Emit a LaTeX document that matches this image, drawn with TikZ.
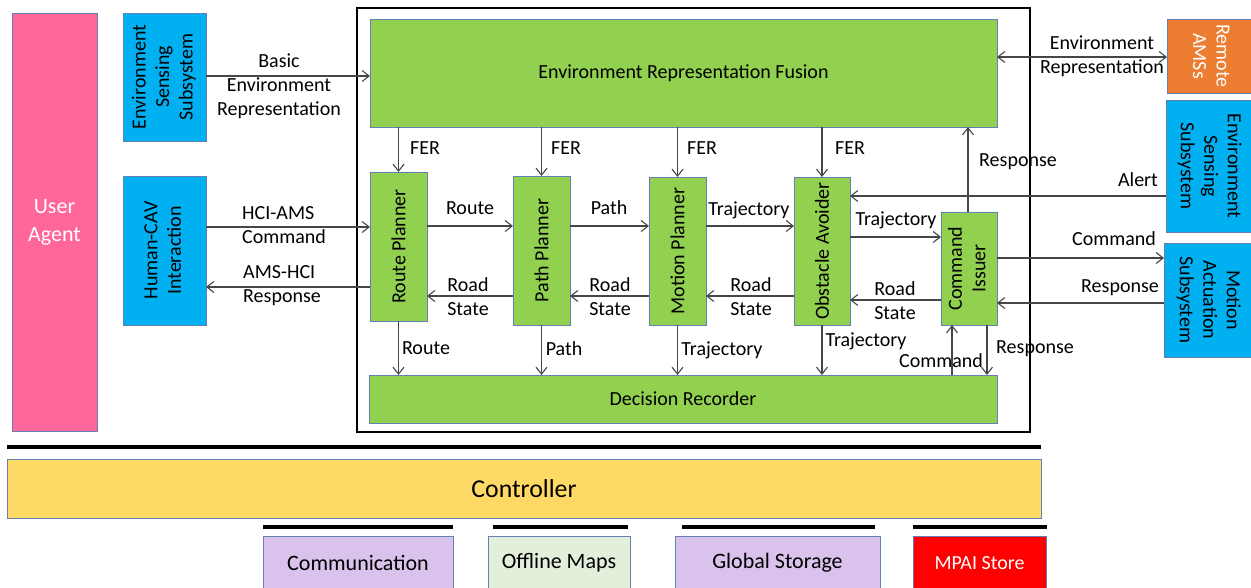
\documentclass[tikz,border=0pt]{standalone}
\usepackage{fontspec}
\setmainfont{Carlito}
\usetikzlibrary{arrows.meta}

\definecolor{agentpink}{RGB}{255,102,153}
\definecolor{sensblue}{RGB}{0,176,240}
\definecolor{modgreen}{RGB}{146,208,80}
\definecolor{remoteorange}{RGB}{237,125,49}
\definecolor{ctrlyellow}{RGB}{255,217,102}
\definecolor{svclavender}{RGB}{217,194,235}
\definecolor{mapgreen}{RGB}{226,239,218}
\definecolor{storered}{RGB}{255,0,0}
\definecolor{edgeblue}{RGB}{100,128,178}
\definecolor{wire}{RGB}{70,70,70}

\newcommand\lblfont{\fontsize{20}{24}\selectfont}
\newcommand\boxfont{\fontsize{20}{23.5}\selectfont}
\newcommand\agentfont{\fontsize{22}{28}\selectfont}
\newcommand\svcfont{\fontsize{22}{26}\selectfont}
\newcommand\ctrlfont{\fontsize{25.8}{30}\selectfont}
\newcommand\stack[1]{\begin{tabular}{@{}c@{}}#1\end{tabular}}

\tikzset{
  box/.style={draw=edgeblue, line width=0.9pt, inner sep=0pt, outer sep=0pt,
              text=black, font=\boxfont, align=center},
  sized/.style 2 args={minimum width=#1pt, minimum height=#2pt},
  wirearrow/.style={draw=wire, line width=1.1pt,
              -{Straight Barb[length=7pt,width=11pt]}},
  twowayarrow/.style={draw=wire, line width=1.1pt,
              {Straight Barb[length=7pt,width=11pt]}-{Straight Barb[length=7pt,width=11pt]}},
  lbl/.style={font=\lblfont, text=black, inner sep=0pt, align=center},
  onelbl/.style={lbl, text height=12.5pt, text depth=0pt},
  bar/.style={draw=black, line width=3.5pt},
  frame/.style={draw=black, line width=1.2pt}
}

\begin{document}
\begin{tikzpicture}[x=1pt,y=-1pt]
\useasboundingbox (0,0) rectangle (1251,587);

% outer agent and subsystems
\node[box, sized={85}{418}, fill=agentpink, text=white, font=\agentfont] (ua) at (54.5,222) {User\\Agent};
\node[box, sized={83}{128}, fill=sensblue] (esl) at (164.5,77)
  {\rotatebox{90}{\stack{Environment\\Sensing\\Subsystem}}};
\node[box, sized={83}{149}, fill=sensblue] (hci) at (164.5,250.5)
  {\rotatebox{90}{\stack{Human-CAV\\Interaction}}};

% autonomous motion subsystem frame
\draw[frame] (357,8) rectangle (1030,432);

\node[box, sized={627}{108}, fill=modgreen] (erf) at (683.5,73) {Environment Representation Fusion};
\node[box, sized={57}{149}, fill=modgreen] (rp) at (398.5,246.5) {\rotatebox{90}{Route Planner}};
\node[box, sized={57}{149}, fill=modgreen] (pp) at (541.5,250.5) {\rotatebox{90}{Path Planner}};
\node[box, sized={57}{148}, fill=modgreen] (mp) at (677.5,251) {\rotatebox{90}{Motion Planner}};
\node[box, sized={56}{148}, fill=modgreen] (oa) at (822,251) {\rotatebox{90}{Obstacle Avoider}};
\node[box, sized={56}{113}, fill=modgreen] (ci) at (969,268.5) {\rotatebox{90}{\stack{Command\\Issuer}}};
\node[box, sized={628}{48}, fill=modgreen] (dr) at (683,399) {Decision Recorder};

% right-hand subsystems
\node[box, sized={85}{74}, fill=remoteorange, text=white] (ram) at (1209.5,56)
  {\rotatebox{-90}{\stack{Remote\\AMSs}}};
\node[box, sized={86}{132}, fill=sensblue] (esr) at (1209,166)
  {\rotatebox{-90}{\stack{Environment\\Sensing\\Subsystem}}};
\node[box, sized={88}{114}, fill=sensblue] (mas) at (1208,300)
  {\rotatebox{-90}{\stack{Motion\\Actuation\\Subsystem}}};

% controller layer and services
\draw[bar] (7,447) -- (1041,447);
\node[box, sized={1034}{59}, fill=ctrlyellow, font=\ctrlfont] (ctrl) at (524,488.5) {Controller};
\draw[bar] (263,527) -- (453,527);
\draw[bar] (493,527) -- (628,527);
\draw[bar] (682,527) -- (875,527);
\draw[bar] (913,527) -- (1047,527);
\node[box, sized={190}{54}, fill=svclavender, font=\svcfont] (comm) at (358,563) {Communication};
\node[box, sized={142}{54}, fill=mapgreen, font=\svcfont] (maps) at (559,563) {Offline Maps};
\node[box, sized={205}{54}, fill=svclavender, font=\svcfont] (gs) at (777.5,563) {Global Storage};
\node[box, sized={133}{54}, fill=storered, text=white] (store) at (979.5,563) {MPAI Store};

% connector levels
\coordinate (yEnv) at (0,76);
\coordinate (yHciIn) at (0,227);
\coordinate (yHciOut) at (0,287);
\coordinate (yFwd) at (0,226);
\coordinate (yBack) at (0,296);
\coordinate (yAlert) at (0,196);
\coordinate (yTraj) at (0,237);
\coordinate (yRoadCI) at (0,300);
\coordinate (yCmdOut) at (0,258);
\coordinate (yRespIn) at (0,303);
\coordinate (yRemote) at (0,57);
\coordinate (xResp) at (968,0);
\coordinate (xCmdUp) at (952,0);
\coordinate (xRespDn) at (987,0);

% inputs from outside
\draw[wirearrow] (esl.east |- yEnv) -- (erf.west |- yEnv);
\draw[wirearrow] (hci.east |- yHciIn) -- (rp.west |- yHciIn);
\draw[wirearrow] (rp.west |- yHciOut) -- (hci.east |- yHciOut);
\draw[twowayarrow] (erf.east |- yRemote) -- (ram.west |- yRemote);
\draw[wirearrow] (esr.west |- yAlert) -- (oa.east |- yAlert);
\draw[wirearrow] (ci.east |- yCmdOut) -- (mas.west |- yCmdOut);
\draw[wirearrow] (mas.west |- yRespIn) -- (ci.east |- yRespIn);

% fused representation to planners
\draw[wirearrow] (erf.south -| rp) -- (rp.north);
\draw[wirearrow] (erf.south -| pp) -- (pp.north);
\draw[wirearrow] (erf.south -| mp) -- (mp.north);
\draw[wirearrow] (erf.south -| oa) -- (oa.north);
\draw[wirearrow] (ci.north -| xResp) -- (erf.south -| xResp);

% planning chain
\draw[wirearrow] (rp.east |- yFwd) -- (pp.west |- yFwd);
\draw[wirearrow] (pp.east |- yFwd) -- (mp.west |- yFwd);
\draw[wirearrow] (mp.east |- yFwd) -- (oa.west |- yFwd);
\draw[wirearrow] (oa.east |- yTraj) -- (ci.west |- yTraj);
\draw[wirearrow] (pp.west |- yBack) -- (rp.east |- yBack);
\draw[wirearrow] (mp.west |- yBack) -- (pp.east |- yBack);
\draw[wirearrow] (oa.west |- yBack) -- (mp.east |- yBack);
\draw[wirearrow] (ci.west |- yRoadCI) -- (oa.east |- yRoadCI);

% decision recording
\draw[wirearrow] (rp.south) -- (rp.south |- dr.north);
\draw[wirearrow] (pp.south) -- (pp.south |- dr.north);
\draw[wirearrow] (mp.south) -- (mp.south |- dr.north);
\draw[wirearrow] (oa.south) -- (oa.south |- dr.north);
\draw[wirearrow] (dr.north -| xCmdUp) -- (ci.south -| xCmdUp);
\draw[wirearrow] (ci.south -| xRespDn) -- (dr.north -| xRespDn);

% connector labels
\node[lbl] at (279,86) {Basic\\Environment\\Representation};
\node[lbl, align=left, anchor=west] at (242,225) {HCI-AMS\\Command};
\node[lbl, align=left, anchor=west] at (243,286) {AMS-HCI\\Response};
\node[onelbl] at (425,148) {FER};
\node[onelbl] at (566,148) {FER};
\node[onelbl] at (702,148) {FER};
\node[onelbl] at (850,148) {FER};
\node[onelbl] at (1018,160) {Response};
\node[lbl] at (1102,56) {Environment\\Representation};
\node[onelbl] at (1138,180) {Alert};
\node[onelbl] at (470,208) {Route};
\node[onelbl] at (609,208) {Path};
\node[onelbl] at (749,209) {Trajectory};
\node[onelbl] at (896,219) {Trajectory};
\node[lbl] at (468,297) {Road\\State};
\node[lbl] at (610,297) {Road\\State};
\node[lbl] at (751,297) {Road\\State};
\node[lbl] at (895,301) {Road\\State};
\node[onelbl] at (426,348) {Route};
\node[onelbl] at (564,349) {Path};
\node[onelbl] at (722,349) {Trajectory};
\node[onelbl] at (866,340) {Trajectory};
\node[onelbl] at (941,361) {Command};
\node[onelbl] at (1035,347) {Response};
\node[onelbl] at (1114,239) {Command};
\node[onelbl] at (1120,286) {Response};
\end{tikzpicture}
\end{document}
